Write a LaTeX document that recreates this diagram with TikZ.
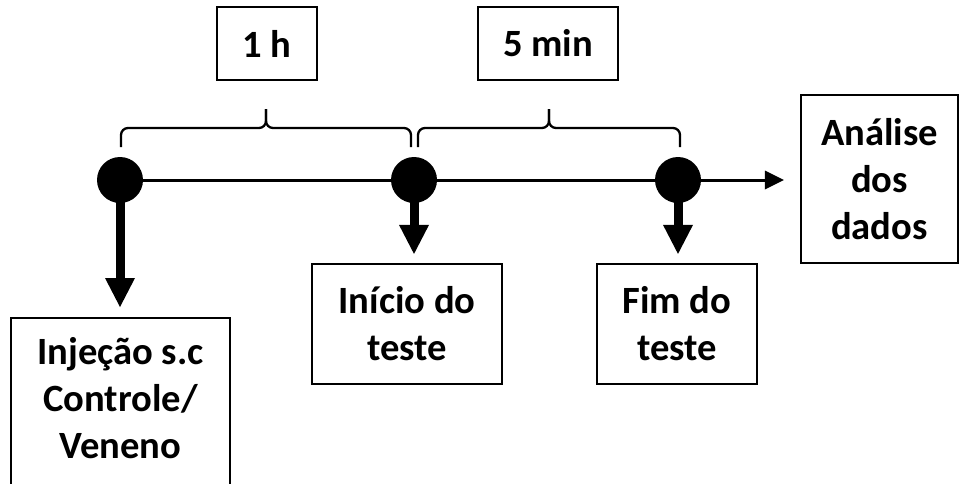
\documentclass[tikz,border=0pt]{standalone}
\usepackage{fontspec}
\setmainfont{Carlito}
\usetikzlibrary{arrows.meta}
\begin{document}
\begin{tikzpicture}[x=1pt,y=-1pt,
  boxtext/.style={font=\bfseries\fontsize{38.6}{47}\selectfont, align=center},
  labelbox/.style={boxtext, draw, line width=2.2pt, inner sep=0pt},
  event/.style={circle, fill=black, minimum size=46pt, inner sep=0pt},
  timeline/.style={line width=3pt, -{Triangle[width=19pt,length=19pt,line width=0pt]}},
  drop/.style={line width=9pt, -{Triangle[width=30pt,length=29pt,line width=0pt]}},
  interval/.style={line width=2.3pt, rounded corners=7pt}]
\clip (0,0) rectangle (960,483);

% events on the time line
\node[event] (c1) at (120,180) {};
\node[event] (c2) at (414,180) {};
\node[event] (c3) at (678,180) {};

% durations
\node[labelbox, minimum width=100pt, minimum height=73pt] (oneh) at (267,43.5) {1 h};
\node[labelbox, minimum width=140pt, minimum height=73pt] (fivemin) at (548,43.5) {5 min};

% stages
\node[labelbox, minimum width=157pt, minimum height=168pt] (an) at (879.5,179) {Análise\\dos\\dados};
\node[labelbox, minimum width=190pt, minimum height=120pt] (ini) at (407,324) {Início do\\teste};
\node[labelbox, minimum width=160pt, minimum height=120pt] (fim) at (677,324) {Fim do\\teste};
\node[draw, line width=2.2pt, minimum width=219pt, minimum height=200pt, anchor=north] (inj) at (120.5,317) {};
\node[boxtext] (injtext) at (120.5,398) {Injeção s.c\\Controle/\\Veneno};

% time line and event arrows
\draw[timeline, shorten >=16pt] (c1.center) -- (an.west |- c1.center);
\draw[drop, shorten >=10pt] (c1.center) -- (c1 |- inj.north);
\draw[drop, shorten >=9pt] (c2.center) -- (c2 |- ini.north);
\draw[drop, shorten >=9pt] (c3.center) -- (c3 |- fim.north);

% interval braces
\draw[interval] (121,147) -- (121,128) -- (266,128) -- (266,109);
\draw[interval] (266,109) -- (266,128) -- (411,128) -- (411,147);
\draw[interval] (418,147) -- (418,128) -- (549,128) -- (549,109);
\draw[interval] (549,109) -- (549,128) -- (680,128) -- (680,147);
\end{tikzpicture}
\end{document}
